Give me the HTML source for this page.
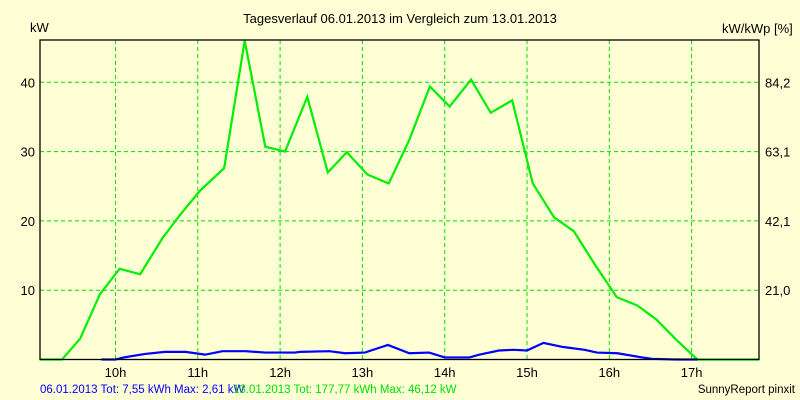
<!DOCTYPE html>
<html><head><meta charset="utf-8"><style>
body{margin:0;background:#ffffd6;}
svg{display:block;font-family:"Liberation Sans",sans-serif;}
</style></head><body>
<svg id="c" width="800" height="400">
<rect width="800" height="400" fill="#ffffd6"/>
<text x="400" y="23" text-anchor="middle" font-size="13">Tagesverlauf 06.01.2013 im Vergleich zum 13.01.2013</text>
<text x="30" y="32" font-size="13">kW</text>
<text x="722" y="33" font-size="13">kW/kWp [%]</text>
<g id="grid"></g><g id="series"></g>
<rect x="40" y="40" width="719" height="319.5" fill="none" stroke="#000" stroke-width="1.3"/>
<text x="40" y="393" font-size="11.5" fill="#0000ff">06.01.2013 Tot: 7,55 kWh Max: 2,61 kW</text>
<text x="233" y="393" font-size="11.5" fill="#00e000">13.01.2013 Tot: 177,77 kWh Max: 46,12 kW</text>
<text x="795" y="393" font-size="11.5" text-anchor="end">SunnyReport pinxit</text>
</svg>
<script>
const hourTicks=[10,11,12,13,14,15,16,17];
const kwTicks=[10,20,30,40];
const pctLabels=["21,0","42,1","63,1","84,2"];
const greenTimes=[9.08,9.35,9.57,9.81,10.05,10.30,10.57,10.78,11.03,11.32,11.57,11.82,12.06,12.33,12.58,12.81,13.06,13.32,13.57,13.82,14.06,14.32,14.56,14.82,15.07,15.33,15.57,15.83,16.09,16.34,16.57,16.81,17.07,17.82];
const greenKw=[0,0,3.0,9.4,13.1,12.3,17.5,20.8,24.4,27.6,46.0,30.7,30.0,37.9,27.0,29.9,26.7,25.4,31.7,39.4,36.5,40.4,35.6,37.4,25.4,20.5,18.5,13.6,9.0,7.8,5.8,2.9,0,0];
const blueTimes=[9.83,10.0,10.1,10.36,10.6,10.85,11.09,11.3,11.58,11.82,12.18,12.24,12.6,12.79,13.03,13.31,13.57,13.81,14.0,14.3,14.42,14.66,14.84,15.0,15.2,15.44,15.7,15.85,16.1,16.4,16.52,16.8,17.07];
const blueKw=[0,0,0.3,0.8,1.1,1.1,0.7,1.2,1.2,1.0,1.0,1.1,1.2,0.9,1.0,2.1,0.9,1.0,0.3,0.3,0.7,1.3,1.4,1.3,2.4,1.8,1.4,1.0,0.9,0.3,0.1,0,0];
const X=t=>115.5+(t-10)*82.3, Y=v=>359.5-v*6.93;
const NS="http://www.w3.org/2000/svg";
function mk(tag,attrs,parent,txt){const e=document.createElementNS(NS,tag);for(const k in attrs)e.setAttribute(k,attrs[k]);if(txt!=null)e.textContent=txt;parent.appendChild(e);return e;}
const g=document.getElementById('grid'),s=document.getElementById('series');
hourTicks.forEach(h=>{
 const l=mk('line',{x1:X(h),x2:X(h),y1:40,y2:359.5,stroke:'#00e000','stroke-dasharray':'4,3'},g);
 
 
 const t=mk('text',{x:X(h),y:377,'text-anchor':'middle','font-size':13},g,h+'h');
 
 
});
kwTicks.forEach((v,i)=>{
 const l=mk('line',{x1:40,x2:759,y1:Y(v),y2:Y(v),stroke:'#00e000','stroke-dasharray':'4,3'},g);
 
 
 const t=mk('text',{x:35,y:Y(v)+5,'text-anchor':'end','font-size':13},g,String(v));
 
 
 const r=mk('text',{x:765,y:Y(v)+5,'font-size':13},g,pctLabels[i]);
 
 
});
const gp=mk('polyline',{points:greenTimes.map((t,i)=>X(t)+','+Y(greenKw[i])).join(' '),fill:'none',stroke:'#00ee00','stroke-width':2.2},s);


const bp=mk('polyline',{points:blueTimes.map((t,i)=>X(t)+','+Y(blueKw[i])).join(' '),fill:'none',stroke:'#0000ff','stroke-width':2.2},s);


</script>
</body></html>
